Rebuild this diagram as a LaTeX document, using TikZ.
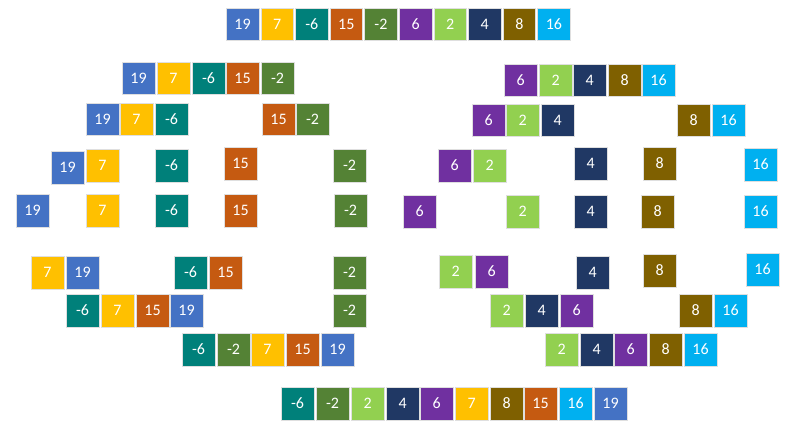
\documentclass[tikz,border=0pt]{standalone}
\usepackage{fontspec}
\setmainfont{Carlito}
\definecolor{c19}{HTML}{4472C4}
\definecolor{c7}{HTML}{FFC000}
\definecolor{cm6}{HTML}{00807A}
\definecolor{c15}{HTML}{C55A11}
\definecolor{cm2}{HTML}{548235}
\definecolor{c6}{HTML}{7030A0}
\definecolor{c2}{HTML}{92D050}
\definecolor{c4}{HTML}{203864}
\definecolor{c8}{HTML}{7F6000}
\definecolor{c16}{HTML}{00B0F0}
\tikzset{
  box/.style={draw=gray!25, line width=0.6pt, minimum width=32.5pt, minimum height=32.5pt,
    inner sep=0pt, anchor=north west, text=white, font=\fontsize{16}{19}\selectfont},
  n19/.style={box, fill=c19},
  n7/.style={box, fill=c7},
  nm6/.style={box, fill=cm6},
  n15/.style={box, fill=c15},
  nm2/.style={box, fill=cm2},
  n6/.style={box, fill=c6},
  n2/.style={box, fill=c2},
  n4/.style={box, fill=c4},
  n8/.style={box, fill=c8},
  n16/.style={box, fill=c16},
}
\begin{document}
\begin{tikzpicture}[x=1pt, y=-1pt]
\useasboundingbox (0,0) rectangle (800,433);
% Row 1
\node[n19] (a1) at (226,8) {19};
\node[n7]  (a2) at (260.6,8) {7};
\node[nm6] (a3) at (295.2,8) {-6};
\node[n15] (a4) at (329.8,8) {15};
\node[nm2] (a5) at (364.4,8) {-2};
\node[n6]  (a6) at (399,8) {6};
\node[n2]  (a7) at (433.6,8) {2};
\node[n4]  (a8) at (468.2,8) {4};
\node[n8]  (a9) at (502.8,8) {8};
\node[n16] (a10) at (537.4,8) {16};
% Row 2
\node[n19] (b1) at (122,62) {19};
\node[n7]  (b2) at (157,62) {7};
\node[nm6] (b3) at (192,62) {-6};
\node[n15] (b4) at (226,62) {15};
\node[nm2] (b5) at (261,62) {-2};
\node[n6]  (b6) at (504,64) {6};
\node[n2]  (b7) at (539,64) {2};
\node[n4]  (b8) at (573,64) {4};
\node[n8]  (b9) at (608,64) {8};
\node[n16] (b10) at (642,64) {16};
% Row 3
\node[n19] (c1) at (86,103) {19};
\node[n7]  (c2) at (120,103) {7};
\node[nm6] (c3) at (155,103) {-6};
\node[n15] (c4) at (262,103) {15};
\node[nm2] (c5) at (296,103) {-2};
\node[n6]  (c6) at (472,104) {6};
\node[n2]  (c7) at (506,104) {2};
\node[n4]  (c8) at (541,104) {4};
\node[n8]  (c9) at (677,104) {8};
\node[n16] (c10) at (712,104) {16};
% Row 4
\node[n19] (d1) at (51,151) {19};
\node[n7]  (d2) at (86,149) {7};
\node[nm6] (d3) at (155,149) {-6};
\node[n15] (d4) at (224,147) {15};
\node[nm2] (d5) at (333,149) {-2};
\node[n6]  (d6) at (438,149) {6};
\node[n2]  (d7) at (473,149) {2};
\node[n4]  (d8) at (574,147) {4};
\node[n8]  (d9) at (643,147) {8};
\node[n16] (d10) at (744,148) {16};
% Row 5
\node[n19] (e1) at (16,194) {19};
\node[n7]  (e2) at (86,194) {7};
\node[nm6] (e3) at (155,194) {-6};
\node[n15] (e4) at (224,194) {15};
\node[nm2] (e5) at (334,194) {-2};
\node[n6]  (e6) at (403,195) {6};
\node[n2]  (e7) at (506,195) {2};
\node[n4]  (e8) at (574,195) {4};
\node[n8]  (e9) at (641,195) {8};
\node[n16] (e10) at (744,195) {16};
% Row 6
\node[n7]  (f1) at (31,256) {7};
\node[n19] (f2) at (66,256) {19};
\node[nm6] (f3) at (174,256) {-6};
\node[n15] (f4) at (209,256) {15};
\node[nm2] (f5) at (333,256) {-2};
\node[n2]  (f6) at (439,255) {2};
\node[n6]  (f7) at (475,255) {6};
\node[n4]  (f8) at (576,256) {4};
\node[n8]  (f9) at (643,254) {8};
\node[n16] (f10) at (746,253) {16};
% Row 7
\node[nm6] (g1) at (66,294) {-6};
\node[n7]  (g2) at (101,294) {7};
\node[n15] (g3) at (136,294) {15};
\node[n19] (g4) at (170,294) {19};
\node[nm2] (g5) at (333,294) {-2};
\node[n2]  (g6) at (490,294) {2};
\node[n4]  (g7) at (525,294) {4};
\node[n6]  (g8) at (560,294) {6};
\node[n8]  (g9) at (679,294) {8};
\node[n16] (g10) at (714,294) {16};
% Row 8
\node[nm6] (h1) at (182,333) {-6};
\node[nm2] (h2) at (217,333) {-2};
\node[n7]  (h3) at (251,333) {7};
\node[n15] (h4) at (286,333) {15};
\node[n19] (h5) at (321,333) {19};
\node[n2]  (h6) at (545,333) {2};
\node[n4]  (h7) at (580,333) {4};
\node[n6]  (h8) at (614,333) {6};
\node[n8]  (h9) at (649,333) {8};
\node[n16] (h10) at (684,333) {16};
% Row 9
\node[nm6] (i1) at (281,387) {-6};
\node[nm2] (i2) at (316,387) {-2};
\node[n2]  (i3) at (351,387) {2};
\node[n4]  (i4) at (386,387) {4};
\node[n6]  (i5) at (420,387) {6};
\node[n7]  (i6) at (455,387) {7};
\node[n8]  (i7) at (490,387) {8};
\node[n15] (i8) at (524,387) {15};
\node[n16] (i9) at (559,387) {16};
\node[n19] (i10) at (594,387) {19};
\end{tikzpicture}
\end{document}
